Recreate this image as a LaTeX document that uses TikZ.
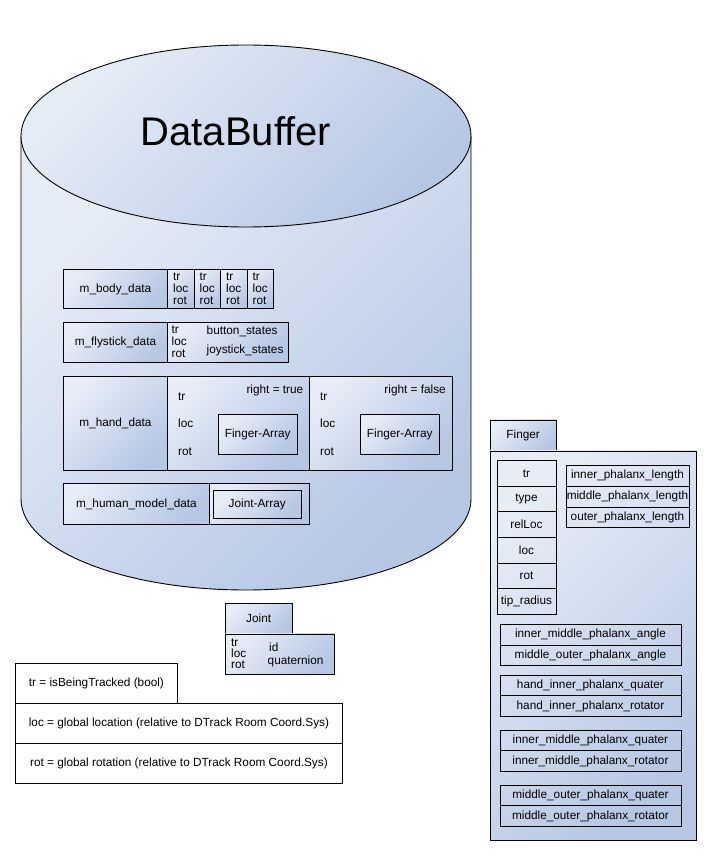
\documentclass[tikz,border=0pt]{standalone}
\usepackage{fontspec}
\setmainfont{Liberation Sans}
\definecolor{bufLight}{RGB}{231,237,247}
\definecolor{bufDark}{RGB}{182,199,228}
\newcommand{\boxfont}{\fontsize{11.8}{12}\selectfont}
\newcommand{\trlocrot}{tr\\loc\\rot}
\tikzset{
  bluefill/.style={top color=bufLight, bottom color=bufDark, shading angle=45},
  field/.style={draw, line width=0.9pt, inner sep=0pt, anchor=north west, align=center, font=\boxfont},
  lbl/.style={inner sep=0pt, align=left, anchor=west, font=\boxfont},
  spread/.style={lbl, font=\fontsize{11.8}{27.7}\selectfont}
}

\begin{document}
\begin{tikzpicture}[x=1pt, y=-1pt]
  \useasboundingbox (0,0) rectangle (711,856);

  % the DataBuffer cylinder
  \draw[bluefill, line width=0.9pt]
    (21,136) -- (21,499) arc[start angle=180, end angle=360, x radius=225pt, y radius=91pt]
    -- (471,136) -- cycle;
  \draw[bluefill, line width=0.9pt] (246,136) ellipse[x radius=225pt, y radius=91pt];
  \node[font=\fontsize{40}{48}\selectfont] (title) at (236,131) {DataBuffer};

  % m_body_data
  \node[field, bluefill, minimum width=104pt, minimum height=39pt] (bodyname) at (63,269) {m\_body\_data};
  \foreach \i in {1,...,4}
    \node[field, bluefill, align=left, minimum width=26.5pt, minimum height=39pt] (body\i) at ({140.5+26.5*\i},269) {\trlocrot};

  % m_flystick_data
  \node[field, bluefill, minimum width=104pt, minimum height=40pt] (flyname) at (63,322) {m\_flystick\_data};
  \node[field, bluefill, minimum width=121pt, minimum height=40pt] (flyinfo) at (167,322) {};
  \node[lbl] (flytrl) at (171.5,342) {\trlocrot};
  \node[lbl] (flybtn) at (206.5,331) {button\_states};
  \node[lbl] (flyjoy) at (206.5,350) {joystick\_states};

  % m_hand_data
  \node[field, bluefill, minimum width=104pt, minimum height=94pt] (handname) at (63,376) {m\_hand\_data};
  \node[field, bluefill, minimum width=142pt, minimum height=94pt] (handright) at (167,376) {};
  \node[field, bluefill, minimum width=143pt, minimum height=94pt] (handleft) at (309,376) {};
  \node[lbl, anchor=east] (righttrue) at (303.5,390) {right = true};
  \node[lbl, anchor=east] (rightfalse) at (446,390) {right = false};
  \node[spread] (righttrl) at (178,424) {\trlocrot};
  \node[spread] (lefttrl) at (320,424) {\trlocrot};
  \node[field, bluefill, minimum width=78.5pt, minimum height=40pt] (fingerright) at (218,414) {Finger-Array};
  \node[field, bluefill, minimum width=78.5pt, minimum height=40pt] (fingerleft) at (360,414) {Finger-Array};

  % m_human_model_data
  \node[field, bluefill, minimum width=146pt, minimum height=41pt] (humanname) at (63,483) {m\_human\_model\_data};
  \node[field, bluefill, minimum width=100pt, minimum height=41pt] (humanjoint) at (209,483) {};
  \node[field, bluefill, minimum width=87.5pt, minimum height=27.7pt] (jointarray) at (213,490) {Joint-Array};

  % Joint
  \node[field, bluefill, minimum width=66.5pt, minimum height=30.5pt] (jointtab) at (225,603) {Joint};
  \node[field, bluefill, minimum width=109pt, minimum height=40pt] (jointbox) at (225,633.5) {};
  \node[lbl, font=\fontsize{11.8}{11}\selectfont] (jointtrl) at (231,654) {\trlocrot};
  \node[lbl] (jointid) at (269,647.5) {id};
  \node[lbl] (jointquat) at (267.5,661) {quaternion};

  % legend
  \node[field, fill=white, minimum width=162pt, minimum height=40pt] (legtr) at (15,663) {tr = isBeingTracked (bool)};
  \node[field, fill=white, minimum width=327pt, minimum height=40pt] (legloc) at (15,703) {loc = global location (relative to DTrack Room Coord.Sys)};
  \node[field, fill=white, minimum width=327pt, minimum height=40pt] (legrot) at (15,743) {rot = global rotation (relative to DTrack Room Coord.Sys)};

  % Finger
  \node[field, bluefill, minimum width=66.5pt, minimum height=31pt] (fingertab) at (489.5,419.5) {Finger};
  \node[field, bluefill, minimum width=206pt, minimum height=389.5pt] (fingerbox) at (489.5,450.5) {};
  \foreach \t [count=\i] in {tr, type, relLoc, loc, rot, {tip\_radius}}
    \node[field, minimum width=59pt, minimum height=25.67pt] (fingerattr\i) at (496.5,{460+25.67*(\i-1)}) {\t};
  \foreach \t [count=\i] in {{inner\_phalanx\_length}, {middle\_phalanx\_length}, {outer\_phalanx\_length}}
    \node[field, minimum width=123pt, minimum height=20.8pt] (fingerlen\i) at (565.5,{465+20.8*(\i-1)}) {\t};

  \node[field, minimum width=181pt, minimum height=20.7pt] (angleA) at (499.5,624) {inner\_middle\_phalanx\_angle};
  \node[field, minimum width=181pt, minimum height=20.7pt] (angleB) at (499.5,644.7) {middle\_outer\_phalanx\_angle};
  \node[field, minimum width=181pt, minimum height=20.7pt] (handquat) at (499.5,674.5) {hand\_inner\_phalanx\_quater};
  \node[field, minimum width=181pt, minimum height=20.7pt] (handrot) at (499.5,695.2) {hand\_inner\_phalanx\_rotator};
  \node[field, minimum width=181pt, minimum height=20.7pt] (innerquat) at (499.5,729.5) {inner\_middle\_phalanx\_quater};
  \node[field, minimum width=181pt, minimum height=20.7pt] (innerrot) at (499.5,750.2) {inner\_middle\_phalanx\_rotator};
  \node[field, minimum width=181pt, minimum height=20.7pt] (outerquat) at (499.5,784.5) {middle\_outer\_phalanx\_quater};
  \node[field, minimum width=181pt, minimum height=20.7pt] (outerrot) at (499.5,805.2) {middle\_outer\_phalanx\_rotator};
\end{tikzpicture}
\end{document}
